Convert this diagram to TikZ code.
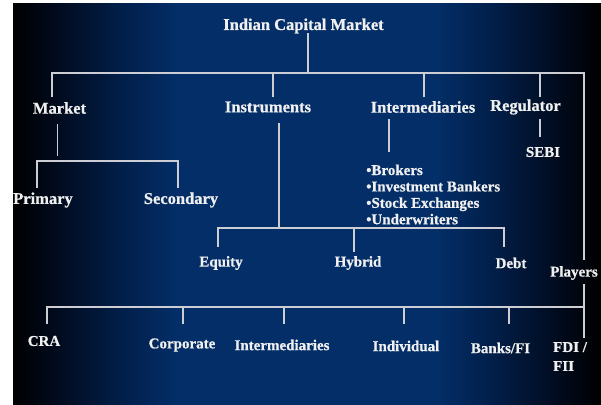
\documentclass[tikz,border=0pt]{standalone}
\usepackage{fontspec}
\setmainfont{Liberation Serif}[BoldFeatures={FakeBold=0.6}]
\usepackage{tikz}

\definecolor{navy}{RGB}{3,46,104}
\definecolor{navydim}{RGB}{2,30,72}
\definecolor{navydark}{RGB}{1,12,32}
\definecolor{ink}{RGB}{240,240,240}
\definecolor{linkgray}{RGB}{205,205,212}
\pgfdeclarehorizontalshading{bgshade}{100bp}{color(0bp)=(black); color(25bp)=(black); color(29bp)=(navydark); color(34bp)=(navydim); color(39bp)=(navy); color(61bp)=(navy); color(66bp)=(navydim); color(71bp)=(navydark); color(75bp)=(black); color(100bp)=(black)}

\begin{document}
\begin{tikzpicture}[x=1pt, y=-1pt,
  every node/.style={text=ink, inner sep=0pt, font=\bfseries\fontsize{15}{16.4}\selectfont},
  big/.style={font=\bfseries\fontsize{16.5}{18}\selectfont},
  link/.style={draw=linkgray, line width=1.3pt}]

\useasboundingbox (0,0) rectangle (601,404);
\fill[white] (0,0) rectangle (601,404);
\shade[shading=bgshade] (13,4) rectangle (601,404);

% top level
\node[big] (icm) at (303.5,26) {Indian Capital Market};
\node[big] (market) at (59.5,108) {Market};
\node[big] (instr) at (268,107) {Instruments};
\node[big] (interm) at (423,107) {Intermediaries};
\node[big] (regul) at (525.5,107) {Regulator};

\coordinate (icm-out) at (308,33);
\coordinate (bus1) at (308,73);
\coordinate (bus1L) at (52,73);
\coordinate (bus1R) at (584,73);
\coordinate (market-in) at (52,97);
\coordinate (instr-in) at (273,97);
\coordinate (interm-in) at (424,97);
\coordinate (regul-in) at (540,97);
\coordinate (players-in) at (584,260);

\draw[link] (icm-out) -- (bus1);
\draw[link] (market-in) -- (bus1L) -- (bus1R) -- (players-in);
\draw[link] (instr-in) -- (instr-in |- bus1);
\draw[link] (interm-in) -- (interm-in |- bus1);
\draw[link] (regul-in) -- (regul-in |- bus1);

% market
\node[big] (primary) at (43,200) {Primary};
\node[big] (secondary) at (181,200) {Secondary};
\coordinate (market-out) at (57.5,124);
\coordinate (market-end) at (57.5,156);
\coordinate (bus2L) at (37,161);
\coordinate (bus2R) at (178,161);
\coordinate (primary-in) at (37,188);
\coordinate (secondary-in) at (178,188);
\draw[link] (market-out) -- (market-end);
\draw[link] (primary-in) -- (bus2L) -- (bus2R) -- (secondary-in);

% instruments
\node (equity) at (221,263) {Equity};
\node (hybrid) at (358,263) {Hybrid};
\node (debt) at (511,263) {Debt};
\coordinate (instr-out) at (279,123);
\coordinate (bus3) at (279,228);
\coordinate (bus3L) at (218,228);
\coordinate (bus3R) at (504,228);
\coordinate (equity-in) at (218,247);
\coordinate (hybrid-in) at (354,252);
\coordinate (debt-in) at (504,247);
\draw[link] (instr-out) -- (bus3);
\draw[link] (equity-in) -- (bus3L) -- (bus3R) -- (debt-in);
\draw[link] (hybrid-in) -- (hybrid-in |- bus3);

% intermediaries and regulator
\node[anchor=west, align=left] (kinds) at (366,194.5)
  {\textbullet Brokers\\\textbullet Investment Bankers\\\textbullet Stock Exchanges\\\textbullet Underwriters};
\coordinate (interm-out) at (389,119);
\coordinate (kinds-in) at (389,152);
\draw[link] (interm-out) -- (kinds-in);

\node (sebi) at (543,152) {SEBI};
\coordinate (regul-out) at (540,119);
\coordinate (sebi-in) at (540,137);
\draw[link] (regul-out) -- (sebi-in);

% players
\node (players) at (574,273) {Players};
\node (cra) at (44,341) {CRA};
\node (corp) at (182,345) {Corporate};
\node (pinterm) at (282,345) {Intermediaries};
\node (indiv) at (406,346) {Individual};
\node (banks) at (500.5,348) {Banks/FI};
\node[anchor=west, align=left, font=\bfseries\fontsize{15}{19}\selectfont] (fdi) at (553,356.5) {FDI /\\FII};

\coordinate (players-out) at (584,284);
\coordinate (bus4L) at (47,307);
\coordinate (bus4R) at (584,307);
\coordinate (cra-in) at (47,324);
\coordinate (fdi-in) at (584,338);
\draw[link] (players-out) -- (bus4R);
\draw[link] (cra-in) -- (bus4L) -- (bus4R) -- (fdi-in);
\foreach \x in {183,284,404,509}
  \draw[link] (\x,307) -- (\x,324);

\end{tikzpicture}
\end{document}
